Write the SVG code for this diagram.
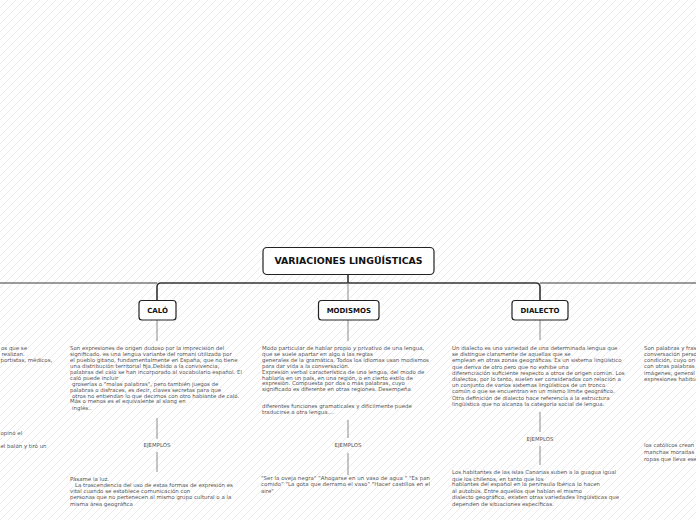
<svg xmlns="http://www.w3.org/2000/svg" width="696" height="520" viewBox="0 0 696 520">
<defs>
<pattern id="hatch" width="8" height="8" patternUnits="userSpaceOnUse">
<path d="M-1,9 L9,-1" stroke="#dedede" stroke-width="0.6"/>
</pattern>
<style>
.node rect{fill:#fff;stroke:#222;stroke-width:1.2}
.title{font-family:"DejaVu Sans",Verdana,sans-serif;font-weight:bold;fill:#111;text-anchor:middle}
.body{font-family:"DejaVu Sans",Verdana,sans-serif;font-size:5.45px;fill:#555}
.lbl{font-family:"DejaVu Sans",Verdana,sans-serif;font-size:5.4px;fill:#555;text-anchor:middle}
.dark{fill:none;stroke:#333;stroke-width:1.6}
.gray{fill:none;stroke:#7a7a7a;stroke-width:1.6}
.thin{fill:none;stroke:#8a8a8a;stroke-width:1}
</style>
</defs>
<rect width="696" height="520" fill="#fff"/>
<rect width="696" height="520" fill="url(#hatch)"/>

<g id="connectors">
<path class="gray" d="M0,283 H157"/>
<path class="gray" d="M540,283 H696"/>
<path class="dark" d="M157,300 V287 Q157,283 161,283 H536 Q540,283 540,287 V300"/>
<path class="dark" d="M348,275 V283"/>
<path class="thin" d="M348,283 V300"/>
<path class="thin" d="M157,320 V341 M157,418 V439 M157,452 V472"/>
<path class="thin" d="M348,320 V341 M348,420 V438 M348,453 V475"/>
<path class="thin" d="M540,320 V340 M540,412 V432 M540,446 V465"/>
</g>

<g id="root" class="node">
<rect x="263" y="247.5" width="171" height="27" rx="4" stroke-width="1.6"/>
<text class="title" x="348.5" y="264.3" font-size="9.4">VARIACIONES LINGÜÍSTICAS</text>
</g>

<g id="calo" class="node">
<rect x="139" y="300.5" width="37" height="19.5" rx="3"/>
<text class="title" x="157.5" y="312.7" font-size="7">CALÓ</text>
</g>

<g id="modismos" class="node">
<rect x="318.5" y="300.5" width="60.5" height="19.5" rx="3"/>
<text class="title" x="348.8" y="312.7" font-size="7">MODISMOS</text>
</g>

<g id="dialecto" class="node">
<rect x="512" y="300.5" width="56" height="19.5" rx="3"/>
<text class="title" x="540" y="312.7" font-size="7">DIALECTO</text>
</g>

<g id="calo-text" class="body">
<text x="70" y="350">Son expresiones de origen dudoso por la imprecisión del</text>
<text x="70" y="356">significado. es una lengua variante del romaní utilizada por</text>
<text x="70" y="362">el pueblo gitano, fundamentalmente en España, que no tiene</text>
<text x="70" y="368">una distribución territorial fija.Debido a la convivencia,</text>
<text x="70" y="374">palabras del caló se han incorporado al vocabulario español. El</text>
<text x="70" y="379.7">caló puede incluir</text>
<text x="72" y="386.3">groserías o "malas palabras", pero también juegos de</text>
<text x="70" y="392">palabras o disfraces, es decir, claves secretas para que</text>
<text x="72" y="398">otros no entiendan lo que decimos con otro hablante de caló.</text>
<text x="70" y="403.3">Más o menos es el equivalente al slang en</text>
<text x="72" y="409.7">inglés..</text>
</g>

<g id="calo-ejemplos">
<text class="lbl" x="157" y="447.3">EJEMPLOS</text>
</g>

<g id="calo-ejemplos-text" class="body">
<text x="70" y="480.5">Pásame la luz.</text>
<text x="75" y="486.5">La trascendencia del uso de estas formas de expresión es</text>
<text x="70" y="493">vital cuando se establece comunicación con</text>
<text x="70" y="499.3">personas que no pertenecen al mismo grupo cultural o a la</text>
<text x="70" y="505.8">misma área geográfica</text>
</g>

<g id="modismos-text" class="body">
<text x="262" y="350.3">Modo particular de hablar propio y privativo de una lengua,</text>
<text x="262" y="356">que se suele apartar en algo a las reglas</text>
<text x="262" y="362">generales de la gramática. Todos los idiomas usan modismos</text>
<text x="262" y="367.7">para dar vida a la conversación.</text>
<text x="262" y="374.3">Expresión verbal característica de una lengua, del modo de</text>
<text x="262" y="379.7">hablarla en un país, en una región, o en cierto estilo de</text>
<text x="262" y="385.3">expresión. Compuesta por dos o más palabras, cuyo</text>
<text x="262" y="391">significado es diferente en otras regiones. Desempeña</text>
<text x="262" y="407.7">diferentes funciones gramaticales y difícilmente puede</text>
<text x="262" y="413.7">traducirse a otra lengua....</text>
</g>

<g id="modismos-ejemplos">
<text class="lbl" x="348" y="447.3">EJEMPLOS</text>
</g>

<g id="modismos-ejemplos-text" class="body">
<text x="261" y="480.3" textLength="169" lengthAdjust="spacing">"Ser la oveja negra"  "Ahogarse en un vaso de agua "  "Es pan</text>
<text x="261" y="486.3" textLength="169" lengthAdjust="spacing">comido"  "La gota que derramo el vaso"  "Hacer castillos en el</text>
<text x="261" y="492.7">aire"</text>
</g>

<g id="dialecto-text" class="body">
<text x="452" y="350">Un dialecto es una variedad de una determinada lengua que</text>
<text x="452" y="356.2">se distingue claramente de aquellas que se</text>
<text x="452" y="362.4">emplean en otras zonas geográficas. Es un sistema lingüístico</text>
<text x="452" y="368.6">que deriva de otro pero que no exhibe una</text>
<text x="452" y="374.8">diferenciación suficiente respecto a otros de origen común. Los</text>
<text x="452" y="381">dialectos, por lo tanto, suelen ser considerados con relación a</text>
<text x="452" y="387.2">un conjunto de varios sistemas lingüísticos de un tronco</text>
<text x="452" y="393.4">común o que se encuentran en un mismo límite geográfico.</text>
<text x="452" y="399.6">Otra definición de dialecto hace referencia a la estructura</text>
<text x="452" y="405.8">lingüística que no alcanza la categoría social de lengua.</text>
</g>

<g id="dialecto-ejemplos">
<text class="lbl" x="540" y="441">EJEMPLOS</text>
</g>

<g id="dialecto-ejemplos-text" class="body">
<text x="452" y="474.3">Los habitantes de las islas Canarias suben a la guagua igual</text>
<text x="452" y="480.7">que los chilenos, en tanto que los</text>
<text x="452" y="486.3">hablantes del español en la península Ibérica lo hacen</text>
<text x="452" y="492.7">al autobús. Entre aquellos que hablan el mismo</text>
<text x="452" y="498.7">dialecto geográfico, existen otras variedades lingüísticas que</text>
<text x="452" y="506">dependen de situaciones específicas.</text>
</g>

<g id="left-partial-text" class="body">
<text x="1" y="350.3">os que se</text>
<text x="1.5" y="356">realizan.</text>
<text x="0.5" y="362">portistas, médicos,</text>
<text x="0.5" y="435.3">opinó el</text>
<text x="0.5" y="447.7">el balón y tiró un</text>
</g>

<g id="right-partial-text" class="body">
<text x="644" y="350.3">Son palabras y fras</text>
<text x="644" y="355.7">conversación perso</text>
<text x="644" y="362">condición, cuyo ori</text>
<text x="644" y="368">con otras palabras</text>
<text x="644" y="374.5">imágenes; general</text>
<text x="644" y="381">expresiones habitu</text>
<text x="644" y="447">los católicos crean</text>
<text x="644" y="454">manchas moradas</text>
<text x="644" y="460.5">ropas que lleva ese</text>
</g>
</svg>
